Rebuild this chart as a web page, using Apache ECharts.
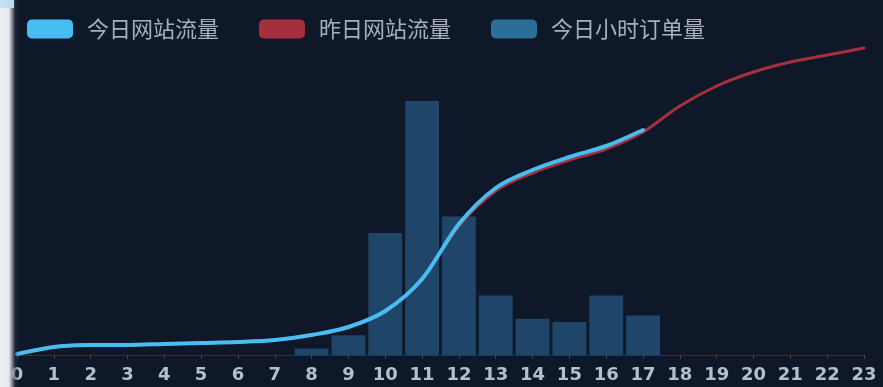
<!DOCTYPE html>
<html>
<head>
<meta charset="utf-8">
<script src="https://cdn.jsdelivr.net/npm/echarts@6/dist/echarts.min.js"></script>
<style>
  html, body { margin: 0; padding: 0; background: #eceff1; }
  #wrap { position: relative; width: 883px; height: 387px; overflow: hidden; }
  #chart { position: absolute; left: 0; top: 0; width: 883px; height: 387px; background: #0e1828; }
  #edge {
    position: absolute; left: 0; top: 0; width: 19px; height: 387px; pointer-events: none;
    background: linear-gradient(to right, #eceff1 0px, #e6e9ec 9px, rgba(160,168,178,0.8) 12px, rgba(50,60,75,0.5) 15px, rgba(14,24,40,0) 19px);
  }
  #edgeTop {
    position: absolute; left: 0; top: 0; width: 14px; height: 8px; pointer-events: none;
    background: linear-gradient(to right, #c4e4f4, #b7d9ec);
  }
</style>
</head>
<body>
<div id="wrap">
  <div id="chart"></div>
  <div id="edge"></div>
  <div id="edgeTop"></div>
</div>
<script>
// Hours of the day
const hours = ['0','1','2','3','4','5','6','7','8','9','10','11','12','13','14','15','16','17','18','19','20','21','22','23'];

// Cumulative site traffic today (data up to 17:00)
const todayTraffic = [10, 80, 100, 100, 110, 120, 130, 150, 200, 280, 440, 760, 1310, 1670, 1850, 1980, 2090, 2250];

// Cumulative site traffic yesterday (full day)
const yesterdayTraffic = [10, 80, 100, 100, 110, 120, 130, 150, 200, 280, 440, 760, 1290, 1640, 1820, 1950, 2060, 2230, 2490, 2690, 2830, 2930, 3000, 3070];

// Orders placed per hour today
const hourlyOrders = [0, 0, 0, 0, 0, 0, 0, 0, 2, 6, 37, 77, 42, 18, 11, 10, 18, 12];

const seriesNames = ['今日网站流量', '昨日网站流量', '今日小时订单量'];

// Smooth curve through hourly points: each data item draws the Catmull-Rom
// segment from its own hour to the next, positioned through the axes.
function splineRenderer(values, color, width) {
  return function (params, api) {
    const i = params.dataIndex;
    const n = values.length;
    if (i >= n - 1) return null;
    const pt = k => {
      const c = Math.max(0, Math.min(n - 1, k));
      return api.coord([c, values[c]]);
    };
    const p0 = pt(i - 1), p1 = pt(i), p2 = pt(i + 1), p3 = pt(i + 2);
    return {
      type: 'bezierCurve',
      shape: {
        x1: p1[0], y1: p1[1],
        x2: p2[0], y2: p2[1],
        cpx1: p1[0] + (p2[0] - p0[0]) / 6,
        cpy1: p1[1] + (p2[1] - p0[1]) / 6,
        cpx2: p2[0] - (p3[0] - p1[0]) / 6,
        cpy2: p2[1] - (p3[1] - p1[1]) / 6
      },
      style: { stroke: color, lineWidth: width, fill: null, lineCap: 'round' }
    };
  };
}

const toPairs = arr => arr.map((v, i) => [i, v]);

const chart = echarts.init(document.getElementById('chart'));
chart.setOption({
  backgroundColor: '#0e1828',
  animation: false,
  legend: {
    left: 22,
    top: 13,
    itemWidth: 46,
    itemHeight: 19,
    itemGap: 40,
    icon: 'roundRect',
    textStyle: {
      color: '#a7b0ba',
      fontSize: 22,
      fontFamily: 'Noto Sans CJK SC',
      padding: [0, 0, 0, 9]
    },
    data: [
      { name: seriesNames[0], itemStyle: { color: '#47bdf2' } },
      { name: seriesNames[1], itemStyle: { color: '#a62f3d' } },
      { name: seriesNames[2], itemStyle: { color: '#2b6f96', opacity: 1 } }
    ]
  },
  grid: { left: 17, right: 19, top: 25, bottom: 32, containLabel: false },
  xAxis: {
    type: 'category',
    data: hours,
    boundaryGap: false,
    axisLine: { show: true, lineStyle: { color: 'rgba(150,95,50,0.35)', width: 1 } },
    axisTick: { show: true, length: 4, lineStyle: { color: 'rgba(170,110,60,0.45)' } },
    axisLabel: {
      color: '#b6bfc9',
      fontSize: 18,
      fontWeight: 'bold',
      fontFamily: 'DejaVu Sans',
      margin: 11,
      interval: 0
    },
    splitLine: { show: false }
  },
  yAxis: [
    { type: 'value', min: 0, max: 3300, show: false, splitLine: { show: false } },
    { type: 'value', min: 0, max: 100, show: false, splitLine: { show: false } }
  ],
  series: [
    {
      name: seriesNames[2],
      type: 'bar',
      yAxisIndex: 1,
      data: hourlyOrders,
      barWidth: '92%',
      itemStyle: { color: '#1f4669' },
      z: 1
    },
    {
      name: seriesNames[1],
      type: 'custom',
      yAxisIndex: 0,
      data: toPairs(yesterdayTraffic),
      encode: { x: 0, y: 1 },
      renderItem: splineRenderer(yesterdayTraffic, '#a62f3d', 3),
      itemStyle: { color: '#a62f3d' },
      z: 3
    },
    {
      name: seriesNames[0],
      type: 'custom',
      yAxisIndex: 0,
      data: toPairs(todayTraffic),
      encode: { x: 0, y: 1 },
      renderItem: splineRenderer(todayTraffic, '#47bdf2', 4),
      itemStyle: { color: '#47bdf2' },
      z: 4
    }
  ]
});
</script>
</body>
</html>
